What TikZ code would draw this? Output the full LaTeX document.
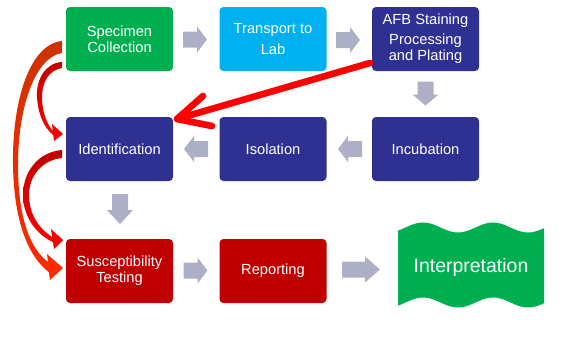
\documentclass[tikz,border=0pt]{standalone}
\usepackage{fontspec}
\setmainfont{Liberation Sans}
\usetikzlibrary{calc}
\definecolor{boxgreen}{HTML}{00B050}
\definecolor{boxblue}{HTML}{00B0F0}
\definecolor{boxnavy}{HTML}{2E3192}
\definecolor{boxred}{HTML}{C00000}
\definecolor{arrowgray}{HTML}{ADAFC7}
\definecolor{curvedark}{HTML}{CC3300}
\definecolor{curvebright}{HTML}{FF2A00}
\tikzset{
  stage/.style={rounded corners=3pt, minimum width=80.25pt, minimum height=48pt,
    inner sep=1pt, text=white, align=center, font=\fontsize{11}{12}\selectfont},
  bigred/.style={draw=red, line width=5pt, line cap=round, line join=round},
  pics/garrow/.style 2 args={code={
    \fill[arrowgray] ({-#1/2},-8) -- ({#1/2-#2},-8) -- ({#1/2-#2},-13)
      -- ({#1/2},0) -- ({#1/2-#2},13) -- ({#1/2-#2},8) -- ({-#1/2},8) -- cycle;}}
}
\begin{document}
\begin{tikzpicture}[x=0.75pt,y=-0.75pt]
\useasboundingbox (0,0) rectangle (573,343);

% process stages
\node[stage, fill=boxgreen] (spec) at (119.5,39) {Specimen\\Collection};
\node[stage, fill=boxblue]  (trans) at (273,39) {Transport to\\[4pt]Lab};
\node[stage, fill=boxnavy]  (afb) at (425.5,39) {AFB Staining\\[3pt]Processing\\and Plating};
\node[stage, fill=boxnavy]  (ident) at (119.5,149) {Identification};
\node[stage, fill=boxnavy]  (iso) at (273,149) {Isolation};
\node[stage, fill=boxnavy]  (incub) at (425.5,149) {Incubation};
\node[stage, fill=boxred]   (susc) at (119.5,271) {Susceptibility\\Testing};
\node[stage, fill=boxred]   (report) at (273,271) {Reporting};

% wavy banner for the final step
\fill[boxgreen] plot[domain=398:544, samples=60] (\x,{227.5-5*cos((\x-423)/70*360)})
  -- plot[domain=544:398, samples=60] (\x,{302.5-5*cos((\x-423)/70*360)}) -- cycle;
\node[text=white, font=\fontsize{14.6}{17}\selectfont] (interp) at (471,267) {Interpretation};

% flow arrows between stages
\pic at (195,39.5) {garrow={24}{10}};
\pic at (348,40) {garrow={24}{10}};
\pic[rotate=-90] at (425.5,93.5) {garrow={24}{11}};
\pic[rotate=180] at (350,149) {garrow={24}{10}};
\pic[rotate=180] at (196,149) {garrow={24}{10}};
\pic[rotate=-90] at (120,209) {garrow={30}{14}};
\pic at (195.5,270.5) {garrow={24}{10}};
\pic at (361,269.5) {garrow={38}{15}};

% return arrow from staining back to identification
\coordinate (redtail) at (370,63);
\coordinate (redtip) at (177,119);
\draw[bigred] (redtail) -- (redtip);
\draw[bigred] ($(redtip)+(26,-23)$) -- (redtip) -- ($(redtip)+(35,7)$);

% curved shortcut arrows on the left
\shade[top color=curvedark, middle color=red, bottom color=curvebright]
  (62,41) .. controls (30,44) and (12,100) .. (13,165)
  .. controls (14,225) and (30,258) .. (48.8,272)
  -- (50,280) -- (63,268) -- (47,254) -- (48,262)
  .. controls (32,250) and (18,222) .. (18,165)
  .. controls (18,105) and (36,57) .. (62,53) -- cycle;
\shade[top color=boxred, bottom color=red]
  (62,62) .. controls (45,63) and (36,80) .. (37,97)
  .. controls (38,114) and (44,128) .. (53.3,135)
  -- (54,141) -- (63,134) -- (52,124) -- (52.8,131)
  .. controls (47,124) and (42,112) .. (42,97)
  .. controls (42,82) and (49,70) .. (62,68) -- cycle;
\shade[top color=boxred, bottom color=red]
  (62,150) .. controls (38,152) and (23,172) .. (23,195)
  .. controls (23,217) and (37,235) .. (52.9,242)
  -- (54,249) -- (63,240) -- (51,229) -- (52.2,237)
  .. controls (38,228) and (29,213) .. (29,195)
  .. controls (29,176) and (42,160) .. (62,158) -- cycle;
\end{tikzpicture}
\end{document}
